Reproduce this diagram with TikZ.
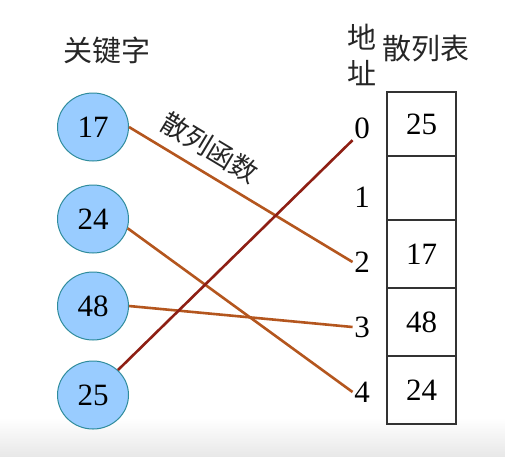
\documentclass[tikz,border=0pt]{standalone}
\usepackage{fontspec}
\setmainfont{Liberation Serif}
\newfontfamily\cjk{Noto Sans CJK SC}
\usetikzlibrary{shapes.geometric}
\definecolor{keyfill}{HTML}{99CCFF}
\definecolor{keyline}{HTML}{2F8C9C}
\definecolor{brownline}{HTML}{B4561E}
\definecolor{redline}{HTML}{8E1F14}
\begin{document}
\begin{tikzpicture}[x=1pt,y=-1pt,
  key/.style={ellipse,draw=keyline,line width=1pt,fill=keyfill,minimum width=71pt,minimum height=68pt,inner sep=0pt,font=\fontsize{31}{33}\selectfont},
  cell/.style={draw=black!80,line width=1.2pt,minimum width=69pt,inner sep=0pt,font=\fontsize{31}{33}\selectfont},
  addr/.style={inner sep=1.5pt,font=\fontsize{31}{33}\selectfont},
  zh/.style={inner sep=0pt,font=\cjk\fontsize{29}{31}\selectfont,text=black!85},
  hash/.style={line width=2.6pt,draw=brownline},
  hashred/.style={line width=2.6pt,draw=redline}]
\useasboundingbox (0,0) rectangle (505,456);
\fill[white] (0,0) rectangle (505,456);
\shade[top color=white,bottom color=black!9] (0,418) rectangle (505,456);
% headers
\node[zh] (hkey) at (107,50) {关键字};
\node[zh] (haddr1) at (362,37) {地};
\node[zh] (haddr2) at (362,73) {址};
\node[zh] (htab) at (426,49) {散列表};
% key circles
\node[key] (k17) at (93,127) {17};
\node[key] (k24) at (93,219) {24};
\node[key] (k48) at (93,306) {48};
\node[key] (k25) at (93,395) {25};
% table cells
\node[cell,minimum height=64pt] (t0) at (421.5,124) {25};
\node[cell,minimum height=64pt] (t1) at (421.5,188) {};
\node[cell,minimum height=68pt] (t2) at (421.5,254) {17};
\node[cell,minimum height=68pt] (t3) at (421.5,322) {48};
\node[cell,minimum height=68pt] (t4) at (421.5,390) {24};
% addresses
\node[addr] (a0) at (362,128) {0};
\node[addr] (a1) at (362,197) {1};
\node[addr] (a2) at (362,262) {2};
\node[addr] (a3) at (362,327) {3};
\node[addr] (a4) at (362,392) {4};
% connectors
\draw[hash] (k17.east) -- (a2.west);
\draw[hash] (k24.-15) -- (a4.west);
\draw[hash] (k48.east) -- (a3.west);
\draw[hashred] (k25.45) -- (a0.south west);
% label
\node[zh,font=\cjk\fontsize{27}{29}\selectfont,rotate=-31] (lbl) at (210,148) {散列函数};
\end{tikzpicture}
\end{document}
